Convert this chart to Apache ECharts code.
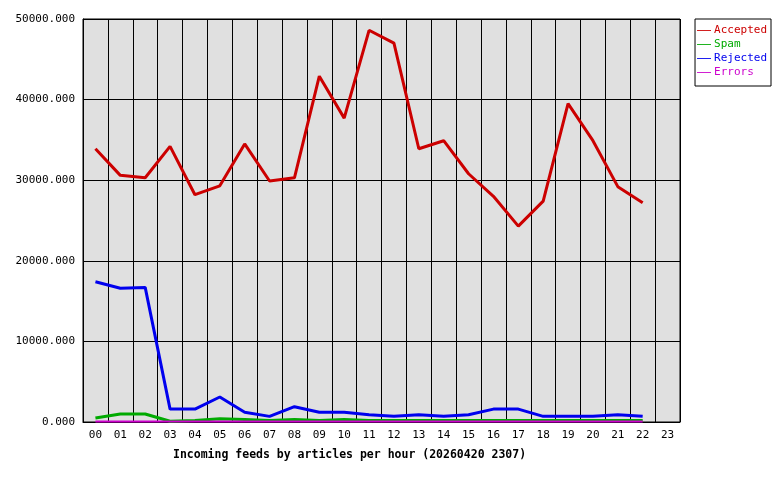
<!DOCTYPE html>
<html><head><meta charset="utf-8">
<script src="https://cdn.jsdelivr.net/npm/echarts@6/dist/echarts.min.js"></script>
<style>body{margin:0;background:#fff}#c{width:780px;height:480px}</style>
</head><body><div id="c"></div>
<script>
var hours = ['00','01','02','03','04','05','06','07','08','09','10','11','12','13','14','15','16','17','18','19','20','21','22','23'];
var accepted = [33900,30600,30300,34200,28200,29300,34500,29900,30300,42900,37700,48600,47000,33900,34900,30800,28000,24300,27400,39500,34900,29200,27200];
var spam = [500,1000,1000,100,200,400,300,200,300,200,300,200,200,200,200,200,200,200,200,200,200,200,200];
var rejected = [17400,16600,16700,1600,1600,3100,1200,700,1900,1200,1200,900,700,900,700,900,1600,1600,700,700,700,900,700];
var errors = [50,50,50,50,50,50,50,50,50,50,50,50,50,50,50,50,50,50,50,50,50,50,50];
var colors = ['#cc0000','#00aa00','#0000ee','#cc00cc'];
var font = 'DejaVu Sans Mono';
function s(name, data, c, w) {
    return {name: name, type: 'line', data: data, symbol: 'none', lineStyle: {width: w, color: c}, itemStyle: {color: c}};
}
var chart = echarts.init(document.getElementById('c'));
chart.setOption({
    animation: false,
    textStyle: {fontFamily: font},
    title: {text: 'Incoming feeds by articles per hour (20260420 2307)', left: 168, top: 444,
        textStyle: {fontFamily: font, fontSize: 11.5, fontWeight: 'bold', color: '#000'}},
    grid: {left: 83, right: 100, top: 19, bottom: 58, show: true, backgroundColor: '#e0e0e0', borderColor: '#000', borderWidth: 1},
    legend: {orient: 'vertical', right: 9, top: 19, padding: [6, 4, 8, 2], itemGap: 3, itemWidth: 14, itemHeight: 8,
        borderColor: '#000', borderWidth: 1, icon: 'path://M0,4L16,4L16,5L0,5Z',
        data: [
            {name: 'Accepted', textStyle: {color: colors[0]}},
            {name: 'Spam', textStyle: {color: colors[1]}},
            {name: 'Rejected', textStyle: {color: colors[2]}},
            {name: 'Errors', textStyle: {color: colors[3]}}
        ],
        textStyle: {fontFamily: font, fontSize: 11, padding: [0, 0, 0, -2]}},
    xAxis: {type: 'category', data: hours, boundaryGap: true,
        axisLine: {lineStyle: {color: '#000'}}, axisTick: {show: false},
        axisLabel: {color: '#000', fontSize: 11, fontFamily: font, margin: 8},
        splitLine: {show: true, lineStyle: {color: '#000', width: 1}}},
    yAxis: {type: 'value', min: 0, max: 50000, interval: 10000,
        axisLine: {show: true, lineStyle: {color: '#000'}}, axisTick: {show: false},
        axisLabel: {color: '#000', fontSize: 11, fontFamily: font, formatter: function (v) { return v.toFixed(3); }},
        splitLine: {lineStyle: {color: '#000', width: 1}}},
    series: [
        s('Accepted', accepted, colors[0], 3),
        s('Spam', spam, colors[1], 3),
        s('Rejected', rejected, colors[2], 3),
        s('Errors', errors, colors[3], 2)
    ]
});
</script></body></html>
